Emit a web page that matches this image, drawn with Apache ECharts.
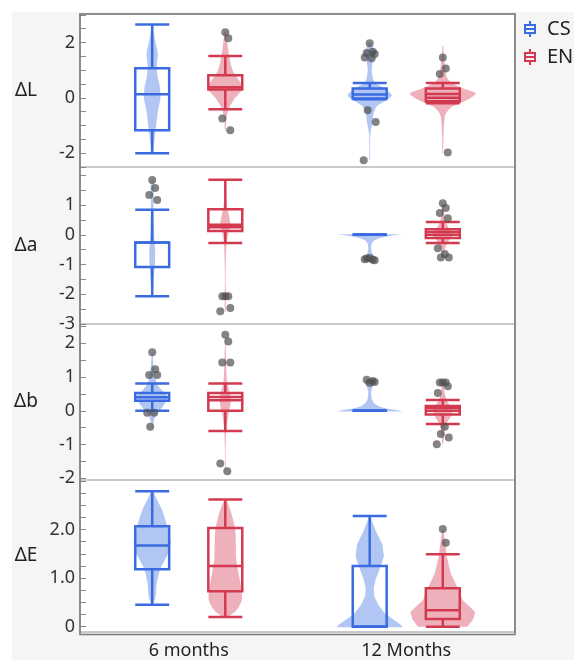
<!DOCTYPE html>
<html>
<head>
<meta charset="utf-8">
<script src="https://cdn.jsdelivr.net/npm/echarts@6/dist/echarts.min.js"></script>
<style>
html,body{margin:0;padding:0;background:#fff;}
#chart{width:574px;height:660px;}
</style>
</head>
<body>
<div id="chart"></div>
<script>
// ---------------- DATA ----------------
const CATEGORIES = ['6 months', '12 Months'];
const GROUPS = ['CS', 'EN'];
const PANEL_NAMES = ['ΔL', 'Δa', 'Δb', 'ΔE'];

// axis extents and ticks per panel
const Y_MIN = [-2.5, -3, -2.05, -0.11];
const Y_MAX = [3.03, 2.28, 2.57, 3.02];
const TICKS_L = [-2.5, -2, -1.5, -1, -0.5, 0, 0.5, 1, 1.5, 2, 2.5, 3];
const TICKS_A = [-3, -2.5, -2, -1.5, -1, -0.5, 0, 0.5, 1, 1.5, 2];
const TICKS_B = [-2, -1.5, -1, -0.5, 0, 0.5, 1, 1.5, 2, 2.5];
const TICKS_E = [0, 0.25, 0.5, 0.75, 1, 1.25, 1.5, 1.75, 2, 2.25, 2.5, 2.75, 3];
const LABELS_L = [-2, 0, 2];
const LABELS_A = [-3, -2, -1, 0, 1];
const LABELS_B = [-2, -1, 0, 1, 2];
const LABELS_E = [0, 1, 2];

// box stats: [lower whisker, Q1, median, Q3, upper whisker] for [6 months, 12 Months]
const BOX_L_CS = [[-2.0, -1.17, 0.13, 1.07, 2.65], [-0.05, -0.02, 0.12, 0.34, 0.54]];
const BOX_L_EN = [[-0.41, 0.3, 0.38, 0.82, 1.51], [-0.2, -0.12, 0.14, 0.34, 0.54]];
const BOX_A_CS = [[-2.07, -1.08, -0.26, -0.26, 0.84], [0, 0, 0, 0, 0]];
const BOX_A_EN = [[-0.28, 0.13, 0.25, 0.86, 1.85], [-0.28, -0.11, 0.0, 0.19, 0.43]];
const BOX_B_CS = [[0, 0.3, 0.4, 0.53, 0.81], [0, 0, 0, 0, 0]];
const BOX_B_EN = [[-0.6, 0.0, 0.31, 0.53, 0.81], [-0.39, -0.11, 0.0, 0.14, 0.32]];
const BOX_E_CS = [[0.45, 1.18, 1.67, 2.07, 2.79], [0, 0, 0, 1.25, 2.28]];
const BOX_E_EN = [[0.2, 0.73, 1.25, 2.03, 2.62], [0, 0.16, 0.34, 0.79, 1.49]];

// second inner line seen in some boxes
const LINE2_L_CS = [null, null];
const LINE2_L_EN = [null, 0.0];
const LINE2_A_CS = [null, null];
const LINE2_A_EN = [0.34, 0.09];
const LINE2_B_CS = [null, null];
const LINE2_B_EN = [0.41, 0.08];
const LINE2_E_CS = [null, null];
const LINE2_E_EN = [null, null];

// outlier points
const OUT_L_CS = [[], [1.97, 1.67, 1.62, 1.58, 1.46, 1.43, -0.45, -0.87, -2.26]];
const OUT_L_EN = [[2.37, 2.15, -0.75, -1.17], [1.46, 1.06, 0.86, -1.98]];
const OUT_A_CS = [[1.84, 1.57, 1.34, 1.17], [-0.78, -0.84, -0.8, -0.86, -0.82]];
const OUT_A_EN = [[-2.07, -2.07, -2.07, -2.46, -2.57], [1.06, 0.9, 0.73, 0.56, -0.45, -0.65, -0.76, -0.76]];
const OUT_B_CS = [[1.73, 1.23, 1.06, 1.06, -0.06, -0.06, -0.47], [0.83, 0.88, 0.92, 0.85]];
const OUT_B_EN = [[2.25, 2.05, 1.43, 1.43, -1.56, -1.79], [0.84, 0.84, 0.84, 0.73, 0.53, -0.47, -0.69, -0.79, -0.99]];
const OUT_E_CS = [[], []];
const OUT_E_EN = [[], [2.01, 1.73]];

// violin density profiles: [value, relative density]
const VIO_L_CS = [
  [[-2.0,0.02],[-1.5,0.07],[-1.0,0.12],[-0.5,0.17],[0,0.25],[0.4,0.23],[0.8,0.16],[1.2,0.14],[1.6,0.17],[2.0,0.1],[2.4,0.04],[2.65,0.01]],
  [[-2.25,0.01],[-1.8,0.01],[-1.3,0.02],[-0.9,0.08],[-0.55,0.12],[-0.3,0.22],[-0.05,0.55],[0.1,0.67],[0.34,0.45],[0.55,0.15],[0.8,0.08],[1.05,0.06],[1.35,0.1],[1.65,0.16],[1.85,0.08],[2.0,0.01]]
];
const VIO_L_EN = [
  [[-1.2,0.01],[-0.8,0.03],[-0.4,0.1],[0,0.3],[0.35,0.53],[0.7,0.38],[1.0,0.22],[1.5,0.12],[2.0,0.06],[2.4,0.02]],
  [[-2.0,0.01],[-1.4,0.02],[-0.9,0.04],[-0.6,0.08],[-0.35,0.25],[-0.1,0.7],[0.16,1.0],[0.35,0.6],[0.55,0.25],[0.75,0.12],[1.2,0.06],[1.5,0.03],[1.9,0.01]]
];
const VIO_A_CS = [
  [[-2.1,0.01],[-1.5,0.05],[-1.0,0.08],[-0.6,0.09],[-0.2,0.07],[0.3,0.05],[0.8,0.04],[1.3,0.04],[1.6,0.05],[1.85,0.02]],
  [[-0.92,0.02],[-0.85,0.15],[-0.75,0.17],[-0.62,0.07],[-0.45,0.04],[-0.3,0.06],[-0.2,0.12],[-0.12,0.28],[-0.05,0.55],[0.0,0.85],[0.02,1.0]]
];
const VIO_A_EN = [
  [[-2.6,0.01],[-2.1,0.02],[-1.5,0.01],[-0.8,0.02],[-0.3,0.04],[0.1,0.1],[0.3,0.16],[0.6,0.12],[0.9,0.06],[1.3,0.03],[1.85,0.01]],
  [[-0.8,0.02],[-0.5,0.05],[-0.25,0.15],[0,0.3],[0.2,0.2],[0.45,0.08],[0.75,0.04],[1.06,0.01]]
];
const VIO_B_CS = [
  [[-0.5,0.01],[-0.3,0.05],[-0.1,0.12],[0.1,0.3],[0.4,0.48],[0.6,0.3],[0.8,0.14],[1.05,0.08],[1.3,0.04],[1.75,0.01]],
  [[-0.02,1.0],[0.02,0.8],[0.07,0.5],[0.13,0.28],[0.22,0.13],[0.35,0.06],[0.55,0.04],[0.7,0.08],[0.8,0.15],[0.88,0.15],[0.94,0.04]]
];
const VIO_B_EN = [
  [[-1.8,0.01],[-1.2,0.01],[-0.6,0.03],[-0.2,0.08],[0.1,0.14],[0.35,0.17],[0.6,0.12],[0.9,0.05],[1.4,0.03],[2.0,0.01],[2.3,0.005]],
  [[-1.0,0.01],[-0.7,0.04],[-0.4,0.1],[-0.15,0.25],[0.05,0.3],[0.25,0.15],[0.5,0.06],[0.85,0.02]]
];
const VIO_E_CS = [
  [[0.45,0.02],[0.6,0.1],[0.9,0.14],[1.2,0.25],[1.5,0.48],[1.75,0.56],[2.05,0.46],[2.4,0.3],[2.65,0.12],[2.8,0.02]],
  [[-0.01,1.0],[0.05,0.92],[0.15,0.7],[0.28,0.45],[0.45,0.26],[0.62,0.14],[0.78,0.12],[0.95,0.17],[1.15,0.28],[1.45,0.43],[1.7,0.38],[1.95,0.2],[2.15,0.08],[2.28,0.02]]
];
const VIO_E_EN = [
  [[0.2,0.06],[0.35,0.35],[0.55,0.5],[0.8,0.48],[1.1,0.4],[1.4,0.33],[1.7,0.32],[2.0,0.3],[2.3,0.2],[2.5,0.1],[2.62,0.02]],
  [[0,0.75],[0.15,0.92],[0.3,0.98],[0.55,0.6],[0.8,0.45],[1.1,0.24],[1.45,0.12],[1.8,0.06],[2.0,0.02]]
];

// ---------------- BUILD ----------------
const PANELS = [
  {box:[BOX_L_CS,BOX_L_EN], line2:[LINE2_L_CS,LINE2_L_EN], out:[OUT_L_CS,OUT_L_EN], vio:[VIO_L_CS,VIO_L_EN], ticks:TICKS_L, labels:LABELS_L},
  {box:[BOX_A_CS,BOX_A_EN], line2:[LINE2_A_CS,LINE2_A_EN], out:[OUT_A_CS,OUT_A_EN], vio:[VIO_A_CS,VIO_A_EN], ticks:TICKS_A, labels:LABELS_A},
  {box:[BOX_B_CS,BOX_B_EN], line2:[LINE2_B_CS,LINE2_B_EN], out:[OUT_B_CS,OUT_B_EN], vio:[VIO_B_CS,VIO_B_EN], ticks:TICKS_B, labels:LABELS_B},
  {box:[BOX_E_CS,BOX_E_EN], line2:[LINE2_E_CS,LINE2_E_EN], out:[OUT_E_CS,OUT_E_EN], vio:[VIO_E_CS,VIO_E_EN], ticks:TICKS_E, labels:LABELS_E}
];

const FONT = 'Noto Sans, DejaVu Sans, sans-serif';
const STROKES = ['#3a6be0', '#d43a4f'];
const FILLS = ['rgba(70,120,225,0.42)', 'rgba(215,70,95,0.42)'];
const PT_COLOR = 'rgba(80,80,80,0.7)';
const GRID_LEFT = 80, GRID_RIGHT = 59;
const GRID_TOPS = [14, 167, 324, 480];
const GRID_HEIGHTS = [153, 157, 156, 154.5];
const GROUP_OFFSET = 0.168, BOX_HALF = 0.078, VIOLIN_MAX = 0.152;
const JITTER = [0, 3, -3, 5, -5, 2, -2, 6, -6];

function renderer(p, g) {
  return function (params, api) {
    const c = params.dataIndex;
    const base = api.coord([c, 0]);
    const band = api.size([1, 0])[0];
    const cx = base[0] + (g === 0 ? -1 : 1) * band * GROUP_OFFSET;
    const hb = band * BOX_HALF;
    const Y = v => api.coord([c, v])[1];
    const st = PANELS[p].box[g][c];
    const col = STROKES[g];
    const lw = 2.5;
    const children = [];
    const prof = PANELS[p].vio[g][c];
    const right = prof.map(d => [cx + d[1] * band * VIOLIN_MAX, Y(d[0])]);
    const left = prof.slice().reverse().map(d => [cx - d[1] * band * VIOLIN_MAX, Y(d[0])]);
    // flat-ended (truncated) violins are drawn without smoothing to keep the sharp edge
    const flatEnd = prof[0][1] > 0.5 || prof[prof.length - 1][1] > 0.5;
    children.push({type: 'polygon', shape: {points: right.concat(left), smooth: flatEnd ? 0 : 0.25}, style: {fill: FILLS[g]}});
    const ln = (x1, y1, x2, y2) => ({type: 'line', shape: {x1, y1, x2, y2}, style: {stroke: col, lineWidth: lw}});
    if (st[1] > st[0]) children.push(ln(cx, Y(st[0]), cx, Y(st[1])));
    if (st[4] > st[3]) children.push(ln(cx, Y(st[3]), cx, Y(st[4])));
    children.push(ln(cx - hb, Y(st[0]), cx + hb, Y(st[0])));
    children.push(ln(cx - hb, Y(st[4]), cx + hb, Y(st[4])));
    children.push({type: 'rect', shape: {x: cx - hb, y: Y(st[3]), width: 2 * hb, height: Math.max(0, Y(st[1]) - Y(st[3]))},
      style: {fill: 'none', stroke: col, lineWidth: lw}});
    children.push(ln(cx - hb, Y(st[2]), cx + hb, Y(st[2])));
    const l2 = PANELS[p].line2[g][c];
    if (l2 !== null) children.push(ln(cx - hb, Y(l2), cx + hb, Y(l2)));
    PANELS[p].out[g][c].forEach((v, i) => {
      children.push({type: 'circle', shape: {cx: cx + JITTER[i % JITTER.length], cy: Y(v), r: 4}, style: {fill: PT_COLOR}});
    });
    return {type: 'group', children};
  };
}

const grids = [], xAxes = [], yAxes = [], series = [];
for (let p = 0; p < 4; p++) {
  grids.push({left: GRID_LEFT, right: GRID_RIGHT, top: GRID_TOPS[p], height: GRID_HEIGHTS[p],
    show: true, backgroundColor: '#fff', borderColor: '#c9c9c9', borderWidth: 2});
  xAxes.push({gridIndex: p, type: 'category', data: CATEGORIES, boundaryGap: true,
    axisLine: {show: false}, axisTick: {show: false}, splitLine: {show: false},
    axisLabel: {show: p === 3, fontSize: 18, color: '#222', margin: 10, fontFamily: FONT}});
  yAxes.push({gridIndex: p, type: 'value', min: Y_MIN[p], max: Y_MAX[p],
    name: PANEL_NAMES[p], nameLocation: 'middle', nameGap: 54, nameRotate: 0,
    nameTextStyle: {fontSize: 19, color: '#222', align: 'center', verticalAlign: 'middle', fontFamily: FONT},
    axisLine: {show: false}, splitLine: {show: false},
    axisTick: {show: true, inside: true, length: 6, lineStyle: {color: '#888', width: 1}, customValues: PANELS[p].ticks},
    axisLabel: {show: true, fontSize: 18, color: '#333', margin: 5, fontFamily: FONT, showMinLabel: true, showMaxLabel: true,
      customValues: PANELS[p].labels,
      formatter: v => p === 3 ? (v === 0 ? '0' : v.toFixed(1)) : String(v)}});
  for (let g = 0; g < 2; g++) {
    series.push({type: 'custom', name: GROUPS[g], xAxisIndex: p, yAxisIndex: p, clip: false,
      itemStyle: {color: STROKES[g]},
      data: CATEGORIES.map((_, i) => [i, 0]), renderItem: renderer(p, g), silent: true});
  }
}

const ICON = 'path://M6,0L6,4M1,4L11,4L11,12L1,12ZM6,12L6,16M1,8L11,8';
const chart = echarts.init(document.getElementById('chart'), null, {renderer: 'canvas'});
const totalH = GRID_TOPS[3] + GRID_HEIGHTS[3] - GRID_TOPS[0];
chart.setOption({
  animation: false,
  backgroundColor: '#fff',
  textStyle: {fontFamily: FONT},
  grid: grids, xAxis: xAxes, yAxis: yAxes, series: series,
  legend: {orient: 'vertical', left: 524, top: 19, itemWidth: 12, itemHeight: 16, itemGap: 8, padding: 0,
    selectedMode: false,
    textStyle: {fontSize: 20, color: '#222', fontFamily: FONT, padding: [0, 0, 0, 6]},
    data: GROUPS.map((n, i) => ({name: n, icon: ICON,
      itemStyle: {color: 'rgba(0,0,0,0)', borderColor: STROKES[i], borderWidth: 2}}))},
  graphic: [
    {type: 'rect', z: -10, silent: true, shape: {x: 12, y: 12, width: 574, height: 660}, style: {fill: '#f5f5f5'}},
    {type: 'rect', z: 100, silent: true, shape: {x: GRID_LEFT, y: GRID_TOPS[0], width: 574 - GRID_LEFT - GRID_RIGHT, height: totalH},
      style: {fill: 'none', stroke: '#7c7c7c', lineWidth: 1.6}}
  ]
});
</script>
</body>
</html>
